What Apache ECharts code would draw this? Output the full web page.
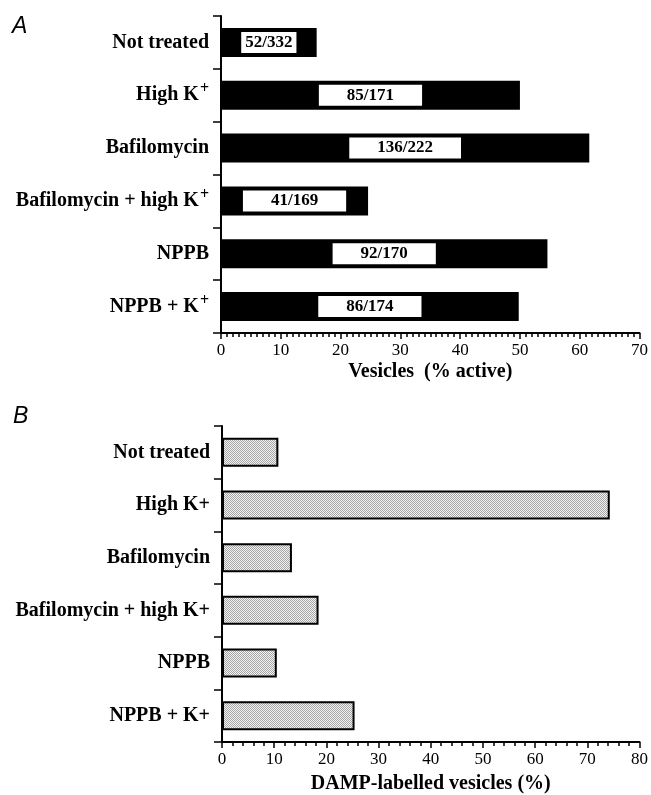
<!DOCTYPE html>
<html>
<head>
<meta charset="utf-8">
<script src="https://cdn.jsdelivr.net/npm/echarts@6/dist/echarts.min.js"></script>
<style>
  html, body { margin: 0; padding: 0; background: #fff; }
  #chart { width: 651px; height: 795px; }
</style>
</head>
<body>
<div id="chart"></div>
<script>
// ---- data ----
const categoriesA = ['Not treated', 'High K+', 'Bafilomycin', 'Bafilomycin + high K+', 'NPPB', 'NPPB + K+'];
const activeA = [16, 50, 61.6, 24.6, 54.6, 49.8];
const countsA = ['52/332', '85/171', '136/222', '41/169', '92/170', '86/174'];

const categoriesB = ['Not treated', 'High K+', 'Bafilomycin', 'Bafilomycin + high K+', 'NPPB', 'NPPB + K+'];
const dampB = [10.8, 74.3, 13.4, 18.5, 10.5, 25.4];

const serif = '"Liberation Serif", "Times New Roman", serif';

// stipple fill for panel B bars
const stipple = document.createElement('canvas');
stipple.width = 2; stipple.height = 2;
const sctx = stipple.getContext('2d');
sctx.fillStyle = '#f2f2f2'; sctx.fillRect(0, 0, 2, 2);
sctx.fillStyle = '#a6a6a6'; sctx.fillRect(0, 0, 1, 1); sctx.fillRect(1, 1, 1, 1);

// "K+" in panel A is drawn with a raised plus
function supLabel(v) {
  if (v.endsWith('K+')) return '{b|' + v.slice(0, -1) + '}{s|+}';
  return '{b|' + v + '}';
}

const catLabelRich = {
  b: { fontFamily: serif, fontWeight: 'bold', fontSize: 20, color: '#000' },
  s: { fontFamily: serif, fontWeight: 'bold', fontSize: 16, color: '#000', padding: [0, 0, 12, 1] }
};

function valueAxis(gridIndex, max, name, gap, minorSplit) {
  return {
    type: 'value', gridIndex: gridIndex, min: 0, max: max, interval: 10,
    name: name, nameLocation: 'middle', nameGap: gap,
    nameTextStyle: { fontFamily: serif, fontWeight: 'bold', fontSize: 20, color: '#000' },
    axisLine: { show: true, lineStyle: { color: '#000', width: 2 } },
    axisTick: { show: true, length: 6, lineStyle: { color: '#000', width: 1.5 } },
    minorTick: { show: true, splitNumber: minorSplit, length: 4, lineStyle: { color: '#000', width: 1.5 } },
    splitLine: { show: false },
    axisLabel: { margin: 9, fontFamily: serif, fontSize: 17, color: '#000' }
  };
}

function catAxis(gridIndex, cats, sup) {
  return {
    type: 'category', gridIndex: gridIndex, data: cats, inverse: true,
    axisLine: { show: true, lineStyle: { color: '#000', width: 2 } },
    axisTick: { show: true, length: 8, lineStyle: { color: '#000', width: 1.5 } },
    axisLabel: {
      margin: 12,
      formatter: sup ? supLabel : (v => '{b|' + v + '}'),
      rich: catLabelRich
    }
  };
}

const chart = echarts.init(document.getElementById('chart'), null, { renderer: 'canvas' });

const option = {
  backgroundColor: '#fff',
  animation: false,
  title: [
    { text: 'A', left: 12, top: 15, padding: 0,
      textStyle: { fontFamily: '"Liberation Sans", Arial, sans-serif', fontStyle: 'italic', fontWeight: 'normal', fontSize: 23, color: '#000' } },
    { text: 'B', left: 13, top: 405, padding: 0,
      textStyle: { fontFamily: '"Liberation Sans", Arial, sans-serif', fontStyle: 'italic', fontWeight: 'normal', fontSize: 23, color: '#000' } }
  ],
  grid: [
    { left: 221, top: 16, width: 420, height: 317 },
    { left: 222, top: 426, width: 420, height: 317 }
  ],
  xAxis: [
    valueAxis(0, 70, 'Vesicles  (% active)', 29, 10),
    valueAxis(1, 80, 'DAMP-labelled vesicles (%)', 32, 5)
  ],
  yAxis: [
    catAxis(0, categoriesA, true),
    catAxis(1, categoriesB, false)
  ],
  series: [
    {
      type: 'bar', xAxisIndex: 0, yAxisIndex: 0,
      barCategoryGap: '45%',
      data: activeA.map((v, i) => ({
        value: v,
        label: { padding: i === 0 ? [2, 4] : [2, 28] }
      })),
      itemStyle: { color: '#000' },
      label: {
        show: true, position: 'inside',
        formatter: p => countsA[p.dataIndex],
        fontFamily: serif, fontWeight: 'bold', fontSize: 17, lineHeight: 17,
        color: '#000', backgroundColor: '#fff'
      }
    },
    {
      type: 'bar', xAxisIndex: 1, yAxisIndex: 1,
      barCategoryGap: '45%',
      data: dampB,
      itemStyle: { color: { image: stipple, repeat: 'repeat' }, borderColor: '#000', borderWidth: 2 }
    }
  ]
};

chart.setOption(option);
</script>
</body>
</html>
